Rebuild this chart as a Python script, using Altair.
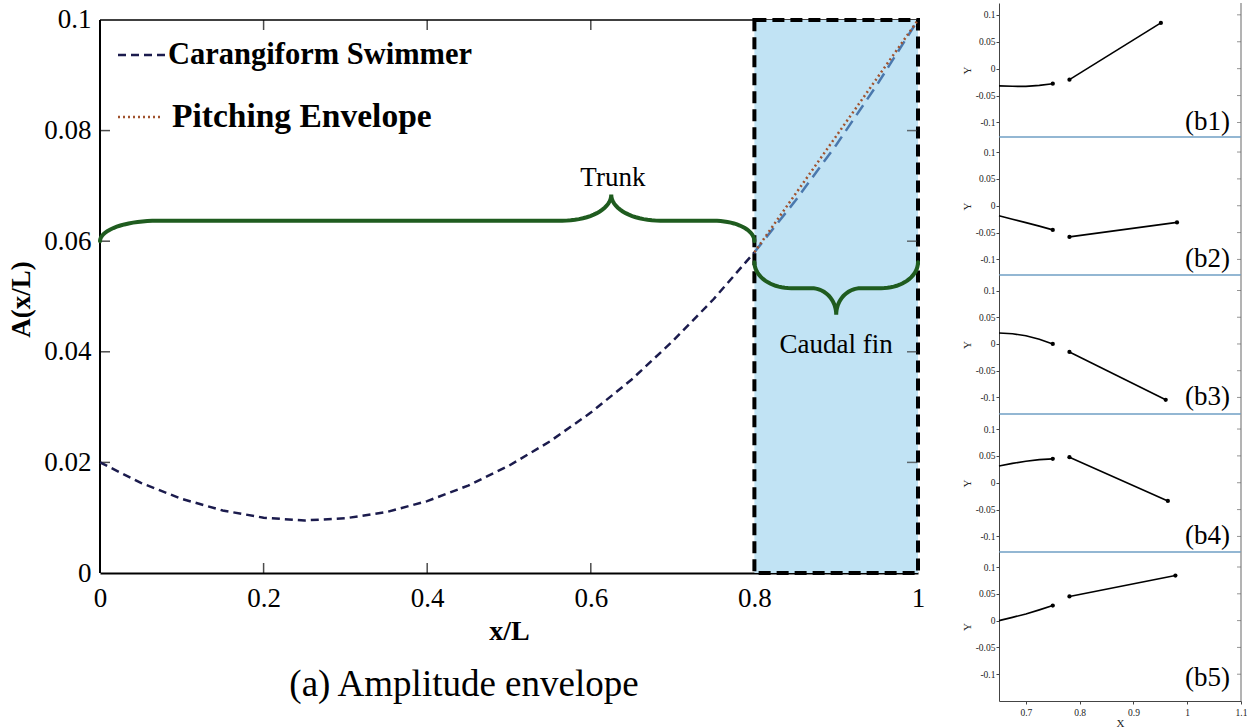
import math

import altair as alt
import pandas as pd

SERIF = "Liberation Serif"
NAVY = "#1b1b4d"
FIN_LINE = "#4a78ad"
BROWN = "#a0522d"
GREEN = "#1f5c1f"
FIN_FILL = "#c1e3f4"
SEPARATOR = "#6f9fc4"

# ---------------- (a) amplitude envelope ----------------
pos = [0.00, 0.05, 0.10, 0.15, 0.20, 0.25, 0.30, 0.35, 0.40, 0.45, 0.50,
       0.55, 0.60, 0.65, 0.70, 0.75, 0.80, 0.85, 0.90, 0.95, 1.00]
amp = [0.0200, 0.0163, 0.0134, 0.0113, 0.0100, 0.0095, 0.0099, 0.0110, 0.0130, 0.0158, 0.0194,
       0.0238, 0.0290, 0.0350, 0.0419, 0.0495, 0.0580, 0.0673, 0.0774, 0.0883, 0.1000]

pitch_pos = [0.8, 1.0]
pitch_amp = [0.058, 0.100]

fin_x = [0.8, 1.0]
fin_y = [0.0, 0.1]

x_ticks = [0, 0.2, 0.4, 0.6, 0.8, 1.0]
y_ticks = [0, 0.02, 0.04, 0.06, 0.08, 0.1]
inner_x_ticks = [0.2, 0.4, 0.6]
inner_y_ticks = [0.02, 0.04, 0.06, 0.08]
Y_TOP = 0.10307

legend_labels = ["Carangiform Swimmer", "Pitching Envelope"]
caption = ["(a) Amplitude envelope"]

# curly braces: span, end level, bar level, tip, and curl radii (left end, tip, right end)
brace_labels = ["Trunk", "Caudal fin"]
brace_x0 = [0.0, 0.8]
brace_x1 = [0.8, 1.0]
brace_end = [0.0600, 0.0562]
brace_bar = [0.0637, 0.0515]
brace_tip_x = [0.625, 0.9]
brace_tip_y = [0.0684, 0.0467]
brace_rx = [(0.07, 0.06, 0.05), (0.045, 0.03, 0.045)]
brace_label_x = [0.627, 0.9]
brace_label_y = [0.0714, 0.0412]

# ---------------- (b1)-(b5) body snapshots ----------------
snap_names = ["(b1)", "(b2)", "(b3)", "(b4)", "(b5)"]
snap_curve_x = [0.65, 0.675, 0.70, 0.725, 0.75]
snap_curve_y = [
    [-0.0320, -0.0328, -0.0330, -0.0310, -0.0280],
    [-0.0185, -0.0250, -0.0315, -0.0380, -0.0450],
    [0.0205, 0.0190, 0.0155, 0.0090, 0.0000],
    [0.0310, 0.0360, 0.0400, 0.0430, 0.0445],
    [0.0000, 0.0060, 0.0125, 0.0200, 0.0280],
]
snap_seg_x = [[0.781, 0.951], [0.781, 0.981], [0.781, 0.960], [0.781, 0.964], [0.781, 0.978]]
snap_seg_y = [[-0.0205, 0.085], [-0.058, -0.031], [-0.015, -0.1045], [0.0475, -0.034], [0.045, 0.084]]
snap_domain = [[-0.127, 0.122], [-0.129, 0.128], [-0.131, 0.129], [-0.129, 0.128], [-0.150, 0.128]]
snap_height = [134, 138, 139, 138, 149]
snap_label_y = [-0.1, -0.1, -0.1, -0.1, -0.108]
snap_y_ticks = [-0.1, -0.05, 0, 0.05, 0.1]
snap_x_ticks = [0.7, 0.8, 0.9, 1.0, 1.1]
SNAP_W = 242

MAIN_W, MAIN_H = 818, 570


def brace_points(k, n=18):
    x0, x1 = brace_x0[k], brace_x1[k]
    ye, yb = brace_end[k], brace_bar[k]
    xt, yt = brace_tip_x[k], brace_tip_y[k]
    rl, rt, rr = brace_rx[k]
    pts = []
    for i in range(n + 1):
        t = i / n * math.pi / 2
        pts.append((x0 + rl * (1 - math.cos(t)), ye + (yb - ye) * math.sin(t)))
    for i in range(n + 1):
        t = i / n * math.pi / 2
        pts.append((xt - rt + rt * math.sin(t), yb + (yt - yb) * (1 - math.cos(t))))
    for i in range(n + 1):
        t = i / n * math.pi / 2
        pts.append((xt + rt * (1 - math.cos(t)), yt + (yb - yt) * math.sin(t)))
    for i in range(n + 1):
        t = i / n * math.pi / 2
        pts.append((x1 - rr + rr * math.sin(t), yb + (ye - yb) * (1 - math.cos(t))))
    return pd.DataFrame({"x": [p[0] for p in pts], "y": [p[1] for p in pts],
                         "i": list(range(len(pts))), "brace": brace_labels[k]})


xs = alt.Scale(domain=[0, 1], nice=False, zero=False)
ys = alt.Scale(domain=[0, Y_TOP], nice=False, zero=False)
x_axis = alt.Axis(values=x_ticks, format="~g", title="x/L", grid=False, ticks=False, tickSize=0,
                  domain=True, domainColor="black", domainWidth=2, labelFlush=False,
                  labelFont=SERIF, labelFontSize=27, labelColor="black", labelPadding=12,
                  titleFont=SERIF, titleFontSize=28, titleFontWeight="bold", titleColor="black",
                  titlePadding=6)
y_axis = alt.Axis(values=y_ticks, format="~g", title="A(x/L)", grid=False, ticks=False, tickSize=0,
                  domain=False, labelFont=SERIF, labelFontSize=27, labelColor="black",
                  labelPadding=9, titleFont=SERIF, titleFontSize=27, titleFontWeight="bold",
                  titleColor="black", titlePadding=8, titleY=296)


def X(field):
    return alt.X(field, type="quantitative", scale=xs, axis=x_axis)


def Y(field):
    return alt.Y(field, type="quantitative", scale=ys, axis=y_axis)


env = pd.DataFrame({"x": pos, "y": amp})
pitch = pd.DataFrame({"x": pitch_pos, "y": pitch_amp})
fin = pd.DataFrame({"x": [fin_x[0]], "x2": [fin_x[1]], "y": [fin_y[0]], "y2": [fin_y[1]]})
frame_left = pd.DataFrame({"x": [0.0], "y": [0.0], "y2": [0.1]})
frame_top = pd.DataFrame({"x": [0.0], "x2": [1.0], "y": [0.1]})
ytick_df = pd.DataFrame({"y": inner_y_ticks})
xtick_df = pd.DataFrame({"x": inner_x_ticks})
braces = pd.concat([brace_points(0), brace_points(1)], ignore_index=True)
brace_text = pd.DataFrame({"x": brace_label_x, "y": brace_label_y, "t": brace_labels})
one = pd.DataFrame({"k": [0]})

layers = [
    # white 1px anchor pinning the plot origin inside the page
    alt.Chart(one).mark_rect(color="white").encode(
        x=alt.value(-100), x2=alt.value(-99), y=alt.value(-3), y2=alt.value(-2)),
    alt.Chart(frame_top).mark_rule(color="black", strokeWidth=1.5).encode(
        x=X("x"), x2="x2", y=Y("y")),
    alt.Chart(fin).mark_rect(fill=FIN_FILL, stroke="black", strokeWidth=4,
                             strokeDash=[12, 6]).encode(x=X("x"), x2="x2", y=Y("y"), y2="y2"),
    alt.Chart(frame_left).mark_rule(color="black", strokeWidth=2).encode(
        x=X("x"), y=Y("y"), y2="y2"),
    alt.Chart(ytick_df).transform_calculate(x="0").mark_tick(
        orient="horizontal", size=10, thickness=1.5, color="black", xOffset=5).encode(
        x=X("x"), y=Y("y")),
    alt.Chart(ytick_df).transform_calculate(x="1").mark_tick(
        orient="horizontal", size=10, thickness=1.5, color="#333", xOffset=-6).encode(
        x=X("x"), y=Y("y")),
    alt.Chart(xtick_df).transform_calculate(y="0").mark_tick(
        orient="vertical", size=10, thickness=1.5, color="black", yOffset=-5).encode(
        x=X("x"), y=Y("y")),
    alt.Chart(xtick_df).transform_calculate(y="0.1").mark_tick(
        orient="vertical", size=10, thickness=1.5, color="black", yOffset=5).encode(
        x=X("x"), y=Y("y")),
    alt.Chart(env).transform_filter(alt.datum.x <= 0.8).mark_line(
        color=NAVY, strokeWidth=2.5, strokeDash=[8, 5]).encode(x=X("x"), y=Y("y")),
    alt.Chart(env).transform_filter(alt.datum.x >= 0.8).mark_line(
        color=FIN_LINE, strokeWidth=2.5, strokeDash=[12, 7]).encode(x=X("x"), y=Y("y")),
    alt.Chart(pitch).mark_line(color=BROWN, strokeWidth=2.5, strokeDash=[2, 3]).encode(
        x=X("x"), y=Y("y")),
    alt.Chart(braces).mark_line(color=GREEN, strokeWidth=4, strokeCap="round").encode(
        x=X("x"), y=Y("y"), detail="brace:N", order="i:Q"),
    alt.Chart(brace_text).mark_text(font=SERIF, fontSize=27, color="black").encode(
        x=X("x"), y=Y("y"), text="t:N"),
    # legend
    alt.Chart(one).mark_rule(color=NAVY, strokeWidth=2.5, strokeDash=[8, 5]).encode(
        x=alt.value(18), x2=alt.value(66), y=alt.value(52)),
    alt.Chart(one).mark_rule(color=BROWN, strokeWidth=2.5, strokeDash=[2, 3]).encode(
        x=alt.value(18), x2=alt.value(60), y=alt.value(114)),
    alt.Chart(pd.DataFrame({"t": [legend_labels[0]]})).mark_text(
        font=SERIF, fontSize=30.5, fontWeight="bold", align="left", baseline="middle",
        color="black").encode(x=alt.value(68), y=alt.value(52), text="t:N"),
    alt.Chart(pd.DataFrame({"t": [legend_labels[1]]})).mark_text(
        font=SERIF, fontSize=33.5, fontWeight="bold", align="left", baseline="middle",
        color="black").encode(x=alt.value(72), y=alt.value(114), text="t:N"),
    alt.Chart(pd.DataFrame({"t": caption})).mark_text(
        font=SERIF, fontSize=37, align="center", baseline="middle", color="black").encode(
        x=alt.value(364), y=alt.value(682), text="t:N"),
]
main = alt.layer(*layers).properties(width=MAIN_W, height=MAIN_H)


def snapshot(k):
    h = snap_height[k]
    last = k == len(snap_names) - 1
    sx = alt.Scale(domain=[0.65, 1.1], nice=False, zero=False)
    sy = alt.Scale(domain=snap_domain[k], nice=False, zero=False)
    if last:
        xax = alt.Axis(values=snap_x_ticks, format="~g", title="X", grid=False, tickSize=3,
                       tickColor="#444", domainColor="#444", labelFlush=False,
                       labelFont=SERIF, labelFontSize=9.5, labelColor="#222", labelPadding=3,
                       titleFont=SERIF, titleFontSize=11, titleFontWeight="normal",
                       titleColor="#222", titlePadding=1)
    else:
        xax = None
    yax = alt.Axis(values=snap_y_ticks, labelExpr="'' + datum.value", title="Y", grid=False,
                   tickSize=3, tickColor="#444", domainColor="#444", labelFont=SERIF,
                   labelFontSize=9.5, labelColor="#222", labelPadding=1, titleFont=SERIF,
                   titleFontSize=11, titleFontWeight="normal", titleColor="#222",
                   titlePadding=3)

    def SX(f):
        return alt.X(f, type="quantitative", scale=sx, axis=xax)

    def SY(f):
        return alt.Y(f, type="quantitative", scale=sy, axis=yax)

    curve = pd.DataFrame({"x": snap_curve_x, "y": snap_curve_y[k]})
    seg = pd.DataFrame({"x": snap_seg_x[k], "y": snap_seg_y[k]})
    dots = pd.DataFrame({"x": [snap_curve_x[-1]] + snap_seg_x[k],
                         "y": [snap_curve_y[k][-1]] + snap_seg_y[k]})
    lab = pd.DataFrame({"t": [snap_names[k]], "y": [snap_label_y[k]]})
    rticks = pd.DataFrame({"y": snap_y_ticks, "x": 1.1})

    parts = [
        alt.Chart(one).mark_rule(color="#9a9a9a", strokeWidth=1.5).encode(
            x=alt.value(SNAP_W), y=alt.value(0), y2=alt.value(h)),
        alt.Chart(rticks).mark_tick(orient="horizontal", size=4, thickness=1, color="#666",
                                    xOffset=-2).encode(x=SX("x"), y=SY("y")),
        alt.Chart(curve).mark_line(color="black", strokeWidth=1.6).encode(x=SX("x"), y=SY("y")),
        alt.Chart(seg).mark_line(color="black", strokeWidth=1.6).encode(x=SX("x"), y=SY("y")),
        alt.Chart(dots).mark_circle(color="black", size=18, opacity=1).encode(
            x=SX("x"), y=SY("y")),
        alt.Chart(lab).mark_text(font=SERIF, fontSize=27, align="right", baseline="middle",
                                 color="black").encode(
            x=alt.value(SNAP_W - 11), y=SY("y"), text="t:N"),
    ]
    if not last:
        parts.append(alt.Chart(one).mark_rule(color=SEPARATOR, strokeWidth=1.5).encode(
            x=alt.value(0), x2=alt.value(SNAP_W), y=alt.value(h)))
    return alt.layer(*parts).properties(width=SNAP_W, height=h)


column = alt.vconcat(*[snapshot(k) for k in range(len(snap_names))], spacing=0, bounds="flush")

chart = (
    alt.hconcat(main, column, spacing=81, bounds="flush")
    .properties(padding=0, background="white")
    .configure_view(stroke=None)
)

chart.save("out.html", embed_options={"renderer": "svg", "actions": False})
